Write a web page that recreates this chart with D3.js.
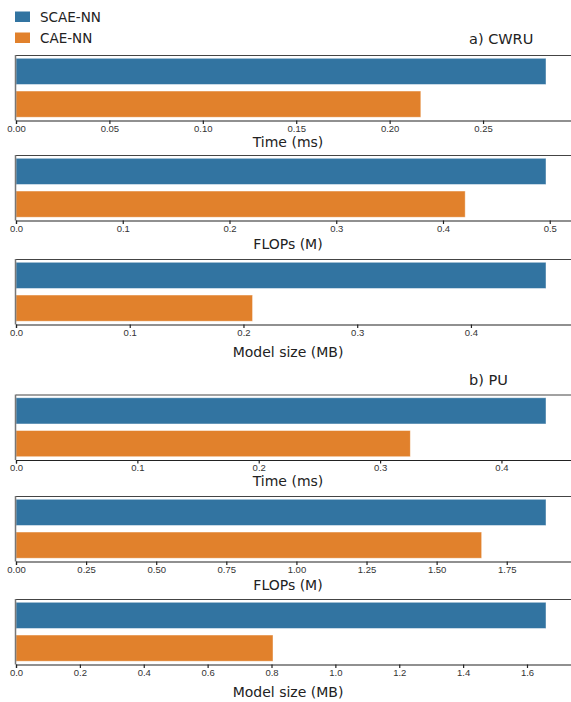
<!DOCTYPE html>
<html>
<head>
<meta charset="utf-8">
<script src="https://cdn.jsdelivr.net/npm/d3@7"></script>
<style>
  html, body { margin: 0; padding: 0; background: #fff; }
  svg { display: block; }
</style>
</head>
<body>
<svg id="chart" width="571" height="702"></svg>
<script>
// Models compared in every panel
const models = ["SCAE-NN", "CAE-NN"];
const modelColors = ["#3274a1", "#e1812c"];

// a) CWRU
const cwruTime = [0.2837, 0.2167];
const cwruFlops = [0.4965, 0.4208];
const cwruSize = [0.466, 0.208];

// b) PU
const puTime = [0.4367, 0.3249];
const puFlops = [1.890, 1.6606];
const puSize = [1.6595, 0.8047];

// Tick values for each panel's x axis
const cwruTimeTicks = [0, 0.05, 0.10, 0.15, 0.20, 0.25];
const cwruFlopsTicks = [0, 0.1, 0.2, 0.3, 0.4, 0.5];
const cwruSizeTicks = [0, 0.1, 0.2, 0.3, 0.4];
const puTimeTicks = [0, 0.1, 0.2, 0.3, 0.4];
const puFlopsTicks = [0, 0.25, 0.5, 0.75, 1.0, 1.25, 1.5, 1.75];
const puSizeTicks = [0, 0.2, 0.4, 0.6, 0.8, 1.0, 1.2, 1.4, 1.6];

const axisLabels = ["Time (ms)", "FLOPs (M)", "Model size (MB)"];

// Panel geometry
const left = 16, right = 572.5, panelH = 65.5, labelX = 288;
const panels = [
  { values: cwruTime,  ticks: cwruTimeTicks,  fmt: ".2f", label: axisLabels[0], top: 55,    titleDy: 26 },
  { values: cwruFlops, ticks: cwruFlopsTicks, fmt: ".1f", label: axisLabels[1], top: 155,   titleDy: 28.5 },
  { values: cwruSize,  ticks: cwruSizeTicks,  fmt: ".1f", label: axisLabels[2], top: 259,   titleDy: 32 },
  { values: puTime,    ticks: puTimeTicks,    fmt: ".1f", label: axisLabels[0], top: 394.5, titleDy: 26 },
  { values: puFlops,   ticks: puFlopsTicks,   fmt: ".2f", label: axisLabels[1], top: 496,   titleDy: 28.5 },
  { values: puSize,    ticks: puSizeTicks,    fmt: ".1f", label: axisLabels[2], top: 599,   titleDy: 32 }
];

const svg = d3.select("#chart");

panels.forEach(p => {
  const x = d3.scaleLinear().domain([0, d3.max(p.values) * 1.05]).range([left, right]);
  const y = d3.scaleBand().domain(models).range([p.top, p.top + panelH]).paddingInner(0.2).paddingOuter(0.1);
  const g = svg.append("g");

  g.selectAll("rect.bar")
    .data(p.values)
    .join("rect")
    .attr("class", "bar")
    .attr("x", x(0))
    .attr("y", (d, i) => y(models[i]))
    .attr("width", d => x(d) - x(0))
    .attr("height", y.bandwidth())
    .attr("fill", (d, i) => modelColors[i])
    .attr("stroke", "#ffffff")
    .attr("stroke-opacity", 0.55)
    .attr("stroke-width", 0.8);

  // frame: top and left spines
  g.append("line")
    .attr("x1", left).attr("x2", right)
    .attr("y1", p.top + 0.5).attr("y2", p.top + 0.5)
    .attr("stroke", "#444").attr("stroke-width", 1);
  g.append("line")
    .attr("x1", left - 0.5).attr("x2", left - 0.5)
    .attr("y1", p.top).attr("y2", p.top + panelH)
    .attr("stroke", "#777").attr("stroke-width", 1.5);

  const axis = d3.axisBottom(x)
    .tickValues(p.ticks)
    .tickFormat(d3.format(p.fmt))
    .tickSize(3.5)
    .tickPadding(1);
  const ax = g.append("g")
    .attr("transform", `translate(0,${p.top + panelH})`)
    .call(axis);
  ax.select(".domain").attr("stroke", "#222").attr("stroke-width", 1.2);
  ax.selectAll(".tick line").attr("stroke", "#222").attr("stroke-width", 1.2);
  ax.selectAll(".tick text")
    .attr("font-family", "Liberation Sans, Arial, sans-serif")
    .attr("font-size", 9.5)
    .attr("fill", "#333");

  g.append("text")
    .attr("x", labelX)
    .attr("y", p.top + panelH + p.titleDy)
    .attr("text-anchor", "middle")
    .attr("font-family", "DejaVu Sans, sans-serif")
    .attr("font-size", 14)
    .attr("fill", "#222")
    .text(p.label);
});

// Dataset titles
const datasetTitles = ["a) CWRU", "b) PU"];
const titleY = [44, 385];
svg.selectAll("text.dataset")
  .data(datasetTitles)
  .join("text")
  .attr("class", "dataset")
  .attr("x", 469)
  .attr("y", (d, i) => titleY[i])
  .attr("font-family", "DejaVu Sans, sans-serif")
  .attr("font-size", 14.5)
  .attr("fill", "#222")
  .text(d => d);

// Legend
const legend = svg.append("g");
const lg = legend.selectAll("g")
  .data(models)
  .join("g")
  .attr("transform", (d, i) => `translate(15,${11.5 + i * 21})`);
lg.append("rect")
  .attr("width", 15).attr("height", 10.5)
  .attr("fill", (d, i) => modelColors[i]);
lg.append("text")
  .attr("x", 25).attr("y", 10.5)
  .attr("font-family", "DejaVu Sans, sans-serif")
  .attr("font-size", 13.5)
  .attr("fill", "#222")
  .text(d => d);
</script>
</body>
</html>
